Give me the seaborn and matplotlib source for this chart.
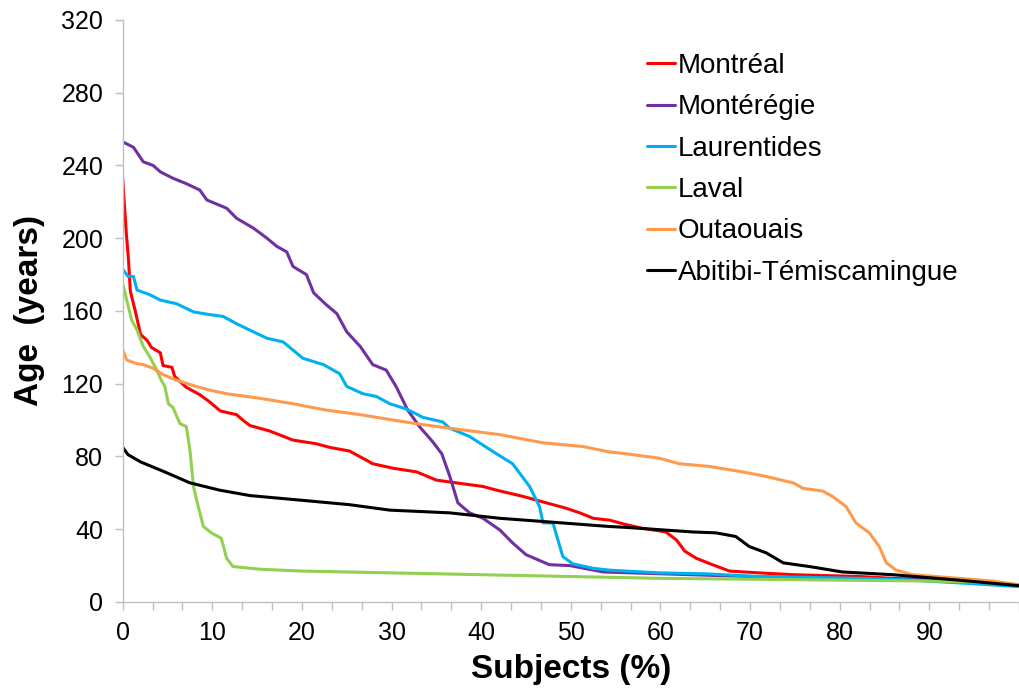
import matplotlib

matplotlib.use("Agg")

import matplotlib.pyplot as plt
from matplotlib.ticker import MultipleLocator
import numpy as np
import pandas as pd
import seaborn as sns

# values (x = % of subjects, y = age in years)
montreal_x = [0, 0.1, 0.4, 0.65, 0.85, 1.4, 2.0, 2.7, 3.2, 4.2, 4.5, 5.5, 5.8, 7.1, 8.6, 9.7,
              10.9, 12.7, 13.4, 14.2, 16.4, 19.0, 21.6, 23.1, 25.3, 26.8, 27.9, 30.2, 32.8,
              35.0, 37.2, 40.2, 41.7, 44.7, 46.9, 48.0, 49.5, 51.0, 52.5, 54.3, 56.2, 58.0,
              60.6, 61.8, 62.7, 64.0, 65.8, 67.7, 71.0, 74.8, 82.2, 89.6, 95.0, 99.9]
montreal_y = [233, 225, 203, 188, 171, 160, 147, 144, 140, 137, 130, 129, 124, 118, 114, 110,
              105, 103, 100, 97, 94, 89, 87, 85, 83, 79, 76, 73.5, 71.5,
              67, 65.5, 63.5, 61.5, 58, 55, 53.5, 51.5, 49, 46, 45, 42.5, 40.5,
              38.5, 34, 28, 24, 20.5, 17, 16, 15, 14, 12, 11, 9]

monteregie_x = [0, 1.2, 2.3, 3.4, 4.2, 5.6, 7.1, 8.6, 9.4, 11.6, 12.7, 14.6, 16.1, 17.2, 18.3,
                19.0, 20.5, 21.3, 22.7, 23.9, 25.0, 26.5, 27.9, 29.4, 30.5, 31.8, 33.1, 34.6,
                35.6, 36.5, 37.4, 38.7, 40.2, 42.1, 43.5, 45.0, 47.6, 49.9, 53.6, 60, 70, 80,
                90, 95, 99.9]
monteregie_y = [253, 250, 242, 240, 236.5, 233, 230, 226.5, 221, 216.5, 211, 205.5, 200, 195.5,
                192.5, 184.5, 180, 170, 163.5, 158.5, 148.5, 140.5, 130.5, 127.5, 118.5, 105.5,
                96.5, 88, 81.5, 69, 54.5, 49, 46, 39.5, 32.5, 26, 20.5, 20, 16.5, 15.5, 14, 13,
                12.5, 12, 9]

laurentides_x = [0, 0.6, 1.2, 1.6, 3.0, 4.2, 6.0, 7.9, 9.7, 11.2, 12.7, 14.6, 16.1, 17.9, 20.1,
                 22.4, 24.2, 25.0, 26.8, 28.3, 29.8, 31.7, 33.5, 35.7, 36.5, 38.7, 41.7, 43.5,
                 45.4, 46.5, 46.9, 48.0, 49.1, 50.2, 52.5, 54.3, 59.9, 65, 71, 82.2, 88, 93.3,
                 99.9]
laurentides_y = [183, 179, 179, 171.5, 169, 166, 164, 159.5, 158, 157, 153, 148.5, 145, 143, 134,
                 130.5, 125.5, 118.5, 114.5, 113, 109, 106, 101.5, 99, 95.5, 91, 81.5, 76,
                 63.5, 52.5, 43.5, 43.5, 25, 21, 18.5, 17.5, 16, 15.5, 14, 13, 12, 10.5, 8.5]

laval_x = [0, 0.45, 1.0, 1.6, 2.3, 3.0, 3.8, 4.3, 4.7, 5.1, 5.6, 6.4, 7.1, 7.5, 7.9, 8.25, 9.0,
           9.9, 11.0, 11.6, 12.3, 15.3, 20, 30, 40, 50, 60, 70, 80, 90, 95, 99.9]
laval_y = [175, 166, 155, 149.5, 140.5, 135, 127.5, 122, 118.5, 109, 107, 98, 96.5, 83.5, 63.5,
           56, 41.5, 38, 35, 24, 19.5, 18, 17, 16, 15, 14, 13, 12.5, 12, 11.5, 11, 9.5]

outaouais_x = [0, 0.45, 1.6, 2.3, 3.4, 4.5, 6.0, 8.2, 9.7, 11.6, 15.3, 19.0, 22.7, 26.5, 30.2,
               32.8, 36.5, 42.1, 46.9, 51.3, 54.3, 56.2, 59.9, 62.1, 65.5, 69.2, 71.8, 74.8,
               75.9, 78.1, 79.2, 80.7, 81.8, 83.3, 84.4, 85.2, 86.3, 88.1, 93.3, 97.1, 99.9]
outaouais_y = [138.5, 133, 131, 130.5, 128.5, 125, 122, 118.5, 116.5, 114.5, 112, 109, 105.5,
               103, 100, 98, 95.5, 92, 87.5, 85.5, 82.5, 81.5, 79, 76, 74.5, 71.5, 69, 65.5,
               62.5, 61, 58, 52.5, 43.5, 38, 30.5, 21.5, 17.5, 15, 13, 11.5, 9.5]

abitibi_x = [0, 0.6, 2.0, 4.7, 7.5, 10.8, 14.2, 19.8, 25.3, 29.8, 36.5, 42.1, 47.6, 54.3, 56.2,
             63.6, 66.2, 68.4, 69.9, 71.8, 73.7, 76.6, 80.3, 85.9, 93.3, 99.9]
abitibi_y = [85, 81, 77, 71.5, 65.5, 61.5, 58.5, 56, 53.5, 50.5, 49, 46, 44, 41.5, 41,
             38.5, 38, 36, 30.5, 27, 21.5, 19.5, 16.5, 15, 12, 9]

regions = ["Montréal", "Montérégie", "Laurentides", "Laval", "Outaouais",
           "Abitibi-Témiscamingue"]
series = [
    (montreal_x, montreal_y),
    (monteregie_x, monteregie_y),
    (laurentides_x, laurentides_y),
    (laval_x, laval_y),
    (outaouais_x, outaouais_y),
    (abitibi_x, abitibi_y),
]
colors = ["#ff0000", "#7030a0", "#00b0f0", "#92d050", "#ff9a4d", "#000000"]

frames = []
for name, (xs, ys) in zip(regions, series, strict=True):
    frames.append(pd.DataFrame({"subjects": xs, "age": ys, "region": name}))
df = pd.concat(frames, ignore_index=True)

sns.set_style("white")
plt.rcParams["font.family"] = ["Liberation Sans", "DejaVu Sans"]
plt.rcParams["text.color"] = "black"
plt.rcParams["axes.labelcolor"] = "black"

fig = plt.figure(figsize=(10.19, 6.94), dpi=100)
ax = fig.add_axes([0.1204, 0.1326, 0.8796, 0.8386])

sns.lineplot(
    data=df,
    x="subjects",
    y="age",
    hue="region",
    hue_order=regions,
    palette=dict(zip(regions, colors)),
    estimator=None,
    sort=False,
    linewidth=2.2,
    ax=ax,
)

ax.set_xlim(0, 100)
ax.set_ylim(0, 320)
ax.set_yticks(np.arange(0, 321, 40))
ax.set_xticks(np.arange(0, 91, 10))
ax.xaxis.set_minor_locator(MultipleLocator(10 / 3))

grey = "#bfbfbf"
for side in ["top", "right"]:
    ax.spines[side].set_visible(False)
for side in ["left", "bottom"]:
    ax.spines[side].set_color(grey)
    ax.spines[side].set_linewidth(1.0)

ax.tick_params(axis="both", which="both", direction="out", color=grey, width=1.0,
               length=6, labelsize=18, pad=8, labelcolor="black")
ax.tick_params(axis="x", which="both", bottom=True)
ax.tick_params(axis="y", left=True)

ax.set_xlabel("Subjects (%)", fontsize=24, fontweight="bold", labelpad=6)
ax.set_ylabel("Age  (years)", fontsize=24, fontweight="bold", labelpad=12)

ax.legend(
    loc="upper left",
    bbox_to_anchor=(0.585, 0.943),
    frameon=False,
    fontsize=20,
    handlelength=1.0,
    handletextpad=0.1,
    labelspacing=0.55,
    borderpad=0,
    borderaxespad=0,
)

fig.savefig("out.png", dpi=100)
plt.close(fig)
